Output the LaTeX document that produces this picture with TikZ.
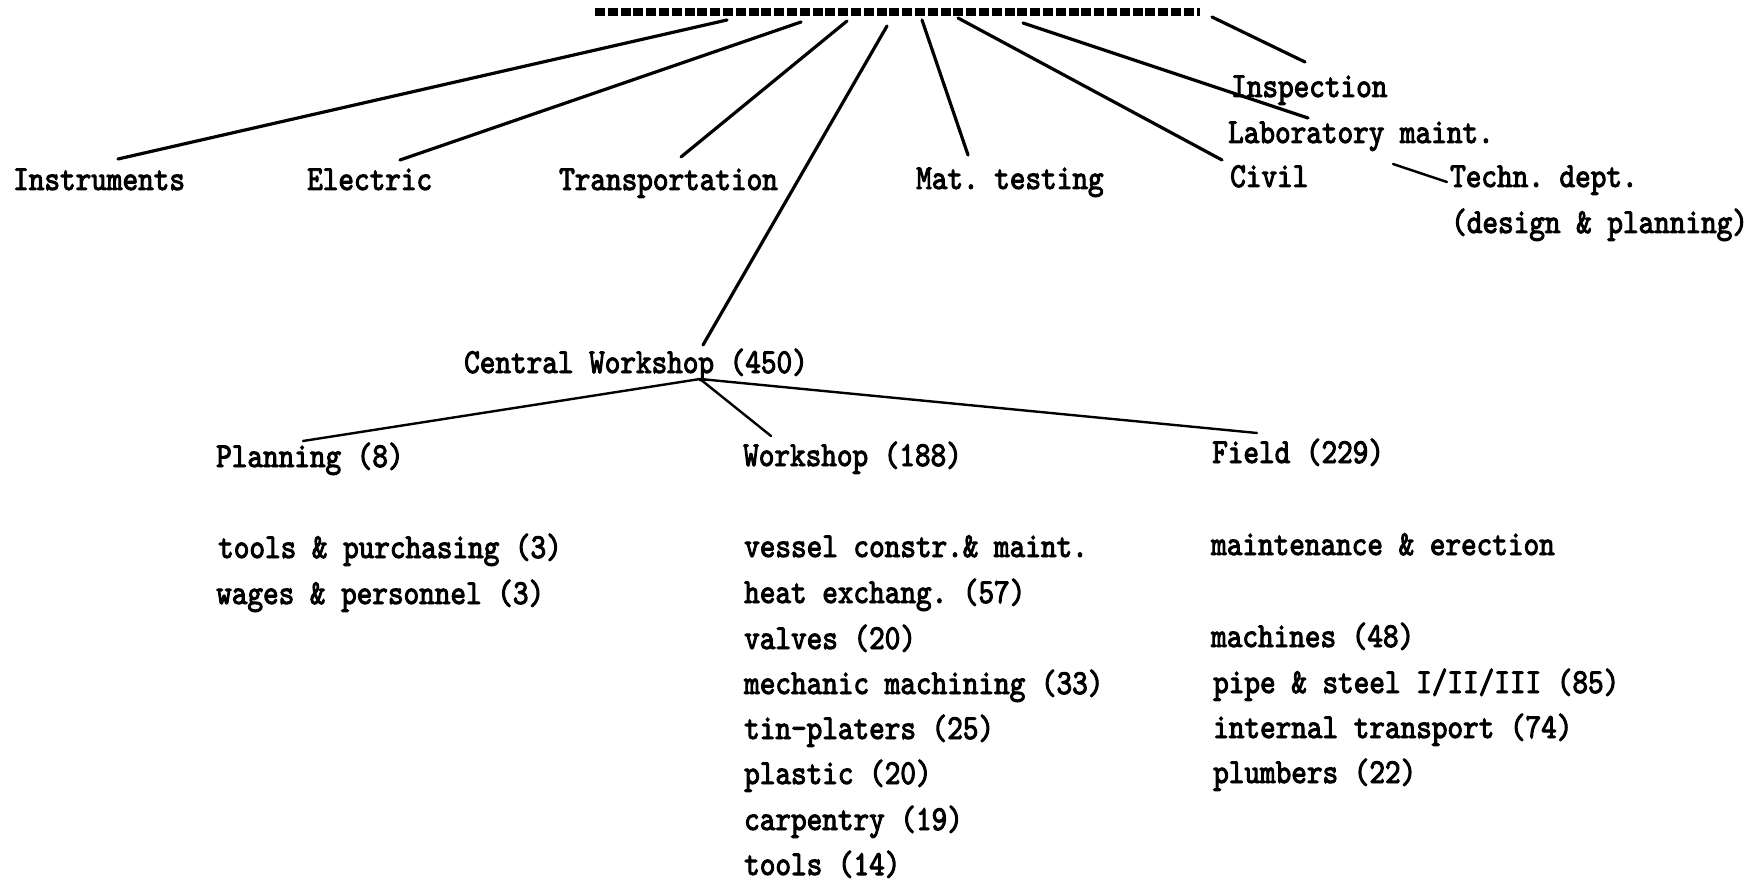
\documentclass[tikz,border=0pt]{standalone}
\usepackage{fontspec}
% typewriter face, slightly condensed and darkened
\setmonofont{lmmono10-regular.otf}[FakeStretch=0.85,FakeBold=2.8]
\begin{document}
\begin{tikzpicture}[x=1pt,y=-1pt,
  lbl/.style={anchor=base west, inner sep=0pt, font=\ttfamily\fontsize{35}{40}\selectfont},
  conn/.style={line width=3.2pt, line cap=round},
  thinconn/.style={line width=2.4pt, line cap=round},
  headbar/.style={line width=8.5pt, dash pattern=on 10pt off 2.8pt}]
\useasboundingbox (0,0) rectangle (1752,882);

% top heading bar
\coordinate (barL) at (595,12);
\coordinate (barR) at (1200,12);
\draw[headbar] (barL) -- (barR);

% attachment points under the bar
\coordinate (a1) at (727,20);
\coordinate (a2) at (801,22);
\coordinate (a3) at (847,21);
\coordinate (a4) at (887,26);
\coordinate (a5) at (922,20);
\coordinate (a6) at (958,18);
\coordinate (a7) at (1023,23);
\coordinate (a8) at (1212,17);

% first level
\node[lbl] (inst)  at (13,190)   {Instruments};
\node[lbl] (elec)  at (307,190)  {Electric};
\node[lbl] (trans) at (559,190)  {Transportation};
\node[lbl] (mat)   at (916,189)  {Mat. testing};
\node[lbl] (civil) at (1230,187) {Civil};
\node[lbl] (insp)  at (1231,97)  {Inspection};
\node[lbl] (lab)   at (1228,143) {Laboratory maint.};
\node[lbl] (techn) at (1450,187) {Techn. dept.};
\node[lbl] (techn2) at (1451,233) {(design \& planning)};

% line ends near the labels
\coordinate (e1) at (118,159);
\coordinate (e2) at (400,160);
\coordinate (e3) at (681,157);
\coordinate (e4) at (703,345);
\coordinate (e5) at (968,155);
\coordinate (e6) at (1222,160);
\coordinate (e7) at (1308,118);
\coordinate (e8) at (1305,62);
\coordinate (t1) at (1393,164);
\coordinate (t2) at (1447,182);

\draw[conn] (a1) -- (e1);
\draw[conn] (a2) -- (e2);
\draw[conn] (a3) -- (e3);
\draw[conn] (a4) -- (e4);
\draw[conn] (a5) -- (e5);
\draw[conn] (a6) -- (e6);
\draw[conn] (a7) -- (e7);
\draw[conn] (a8) -- (e8);
\draw[thinconn] (t1) -- (t2);

% central workshop
\node[lbl] (cw) at (464,373) {Central Workshop (450)};
\coordinate (cwj) at (700,379);
\node[lbl] (plan)  at (216,467)  {Planning (8)};
\node[lbl] (ws)    at (743,466)  {Workshop (188)};
\node[lbl] (field) at (1212,463) {Field (229)};
\coordinate (pe) at (303,441);
\coordinate (we) at (771,436);
\coordinate (fe) at (1257,433);
\draw[thinconn] (cwj) -- (pe);
\draw[thinconn] (cwj) -- (we);
\draw[thinconn] (cwj) -- (fe);

% planning
\node[lbl] (p1) at (218,558) {tools \& purchasing (3)};
\node[lbl] (p2) at (216,604) {wages \& personnel (3)};

% workshop
\node[lbl] (w1) at (744,557) {vessel constr.\& maint.};
\node[lbl] (w2) at (744,603) {heat exchang. (57)};
\node[lbl] (w3) at (744,649) {valves (20)};
\node[lbl] (w4) at (744,694) {mechanic machining (33)};
\node[lbl] (w5) at (744,739) {tin-platers (25)};
\node[lbl] (w6) at (744,784) {plastic (20)};
\node[lbl] (w7) at (744,830) {carpentry (19)};
\node[lbl] (w8) at (744,875) {tools (14)};

% field
\node[lbl] (f1) at (1211,555) {maintenance \& erection};
\node[lbl] (f2) at (1211,647) {machines (48)};
\node[lbl] (f3) at (1213,693) {pipe \& steel I/II/III (85)};
\node[lbl] (f4) at (1213,738) {internal transport (74)};
\node[lbl] (f5) at (1213,783) {plumbers (22)};
\end{tikzpicture}
\end{document}
